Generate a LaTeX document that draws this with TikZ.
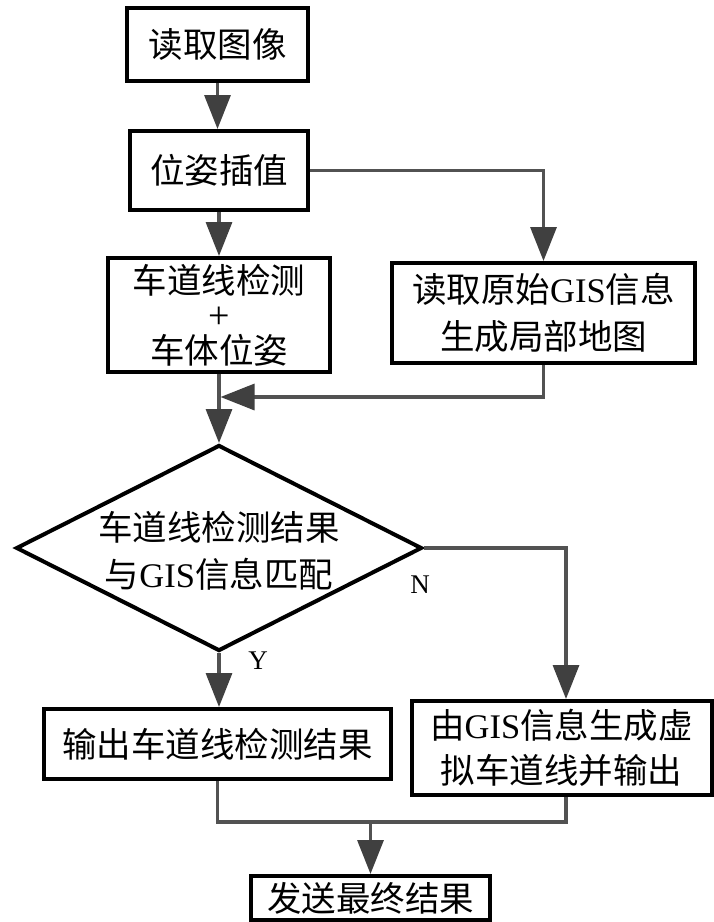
\documentclass[tikz,border=0pt]{standalone}
\usepackage{fontspec}
\setmainfont{Liberation Serif}
\newfontfamily\cjk{Noto Sans CJK SC}
\usetikzlibrary{arrows.meta,shapes.geometric}
\newcommand\bigfnt{\cjk\fontsize{34.5}{47}\selectfont}
\begin{document}
\begin{tikzpicture}[x=1pt,y=-1pt,
  box/.style={draw=black, line width=4pt, fill=white, inner sep=0pt, align=center, font=\bigfnt},
  conn/.style={draw=black!68, line width=3.2pt},
  arr/.style={conn, -{Triangle[width=26pt,length=34pt,fill=black!75,color=black!75]}},
  lbl/.style={font=\rmfamily\fontsize{27}{27}\selectfont, inner sep=0pt}
]
\useasboundingbox[fill=white] (0,0) rectangle (714,922);

% nodes
\node[box, minimum width=181pt, minimum height=73pt] (b1) at (217.5,44.5) {读取图像};
\node[box, minimum width=178pt, minimum height=79pt] (b2) at (219,170.5) {位姿插值};
\node[box, minimum width=222pt, minimum height=114pt, font=\cjk\fontsize{34.5}{35}\selectfont] (b3) at (219,315) {车道线检测\\{\rmfamily\fontsize{38}{35}\selectfont +}\\车体位姿};
\node[box, minimum width=303pt, minimum height=100pt] (b4) at (543.5,313) {读取原始{\rmfamily GIS}信息\\生成局部地图};
\node[draw=black, line width=4pt, fill=white, diamond, minimum width=406pt, minimum height=206pt, inner sep=0pt] (d) at (219,548) {};
\node[align=center, inner sep=0pt, font=\bigfnt] (dt) at (219,551) {车道线检测结果\\与{\rmfamily GIS}信息匹配};
\node[box, minimum width=347pt, minimum height=70pt] (b5) at (217.5,744) {输出车道线检测结果};
\node[box, minimum width=300pt, minimum height=94pt, font=\cjk\fontsize{34.5}{45}\selectfont] (b6) at (561.5,748) {由{\rmfamily GIS}信息生成虚\\拟车道线并输出};
\node[box, minimum width=239pt, minimum height=44pt] (b7) at (370.5,898) {发送最终结果};

\node[lbl] (nl) at (420,585) {N};
\node[lbl] (yl) at (258,661) {Y};

% connectors
\draw[arr] (b1.south) -- (b1.south |- b2.north);
\draw[arr] (b2.south) -- (b2.south |- b3.north);
\draw[arr] (b2.east) -| (b4.north);
\coordinate (m) at (220.5,397);
\draw[arr] (b4.south) |- (m);
\draw[arr] (b3.south) -- (b3.south |- d.north);
\draw[arr] (d.south) -- (d.south |- b5.north);
\coordinate (n1) at (566,548);
\draw[arr] (d.east) -- (n1) -- (n1 |- b6.north);
\coordinate (j) at (370.5,822);
\draw[conn] (b5.south) |- (j);
\draw[conn] (n1 |- b6.south) |- (j);
\draw[arr] (j) -- (b7.north);
\end{tikzpicture}
\end{document}
